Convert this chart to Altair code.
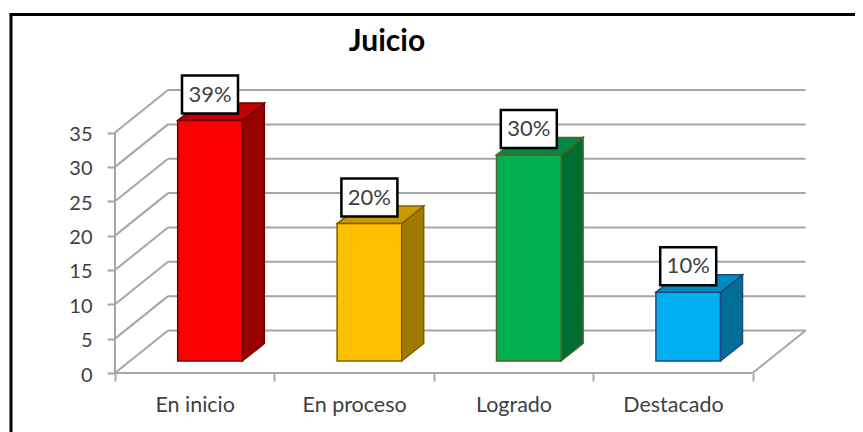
import altair as alt
import pandas as pd

categories = ["En inicio", "En proceso", "Logrado", "Destacado"]
values = [35, 20, 30, 10]
labels = ["39%", "20%", "30%", "10%"]
grid_values = [0, 5, 10, 15, 20, 25, 30, 35]
front_colors = ["#ff0000", "#ffc000", "#00b050", "#00b0f0"]
top_colors = ["#c00000", "#cc9a00", "#008c40", "#008cc0"]
side_colors = ["#990000", "#a07a00", "#006e32", "#006e98"]
edge_colors = ["#6e0000", "#7f6000", "#4f6228", "#1f497d"]

FONT = "Lato"
GRID = "#a6a6a6"
TEXT = "#404040"
PX_X = 159.4   # px per category slot
PX_Y = 6.87    # px per value unit
W, H = 693, 284
WALL_X, WALL_Y = 53 / PX_X, 42.5 / PX_Y
BAR_L, BAR_W = 62.7 / PX_X, 64.6 / PX_X
BAR_DX, BAR_DY = 22 / PX_X, 17.5 / PX_Y
BASE = 12 / PX_Y
BOX_W, BOX_H, BOX_UP = 56 / PX_X, 38 / PX_Y, 26 / PX_Y

n = len(categories)
x_axis_values = [i / 2 for i in range(2 * n + 1)]
label_expr = "datum.value % 1 === 0 ? '' : " + str(categories) + "[floor(datum.value)]"

x_scale = alt.Scale(domain=[0, W / PX_X], nice=False, zero=False)
y_scale = alt.Scale(domain=[0, H / PX_Y], nice=False, zero=False)
x_axis = alt.Axis(
    values=x_axis_values,
    labelExpr=label_expr,
    title=None,
    grid=False,
    domain=False,
    labelFont=FONT,
    labelFontSize=21.5,
    labelColor=TEXT,
    labelPadding=13,
    labelOverlap=False,
    labelFlush=False,
    tickColor=GRID,
    tickWidth=2,
    tickSize=8,
    tickOpacity={"condition": {"test": "datum.value % 1 === 0", "value": 1}, "value": 0},
)
y_axis = alt.Axis(
    values=grid_values,
    title=None,
    grid=False,
    domain=False,
    labelFont=FONT,
    labelFontSize=20,
    labelColor=TEXT,
    labelPadding=15,
    labelOffset=2,
    labelOverlap=False,
    tickColor=GRID,
    tickWidth=2,
    tickSize=8,
)
X = lambda f: alt.X(f, type="quantitative", scale=x_scale, axis=x_axis, title=None)
Y = lambda f: alt.Y(f, type="quantitative", scale=y_scale, axis=y_axis, title=None)

grid_df = pd.DataFrame({"v": grid_values})
grid_df["vb"] = grid_df["v"] + WALL_Y
grid_df["x0"] = 0.0
grid_df["x1"] = WALL_X
grid_df["x2"] = float(n) + WALL_X

diag = alt.Chart(grid_df).mark_rule(color=GRID, strokeWidth=2).encode(
    x=X("x0"), x2="x1:Q", y=Y("v"), y2="vb:Q"
)
back = alt.Chart(grid_df).mark_rule(color=GRID, strokeWidth=2).encode(
    x=X("x1"), x2="x2:Q", y=Y("vb")
)
wall_df = pd.DataFrame({"x": [0.0], "a": [grid_values[0]], "b": [grid_values[-1]]})
wall = alt.Chart(wall_df).mark_rule(color=GRID, strokeWidth=2).encode(
    x=X("x"), y=Y("a"), y2="b:Q"
)
floor_df = pd.DataFrame(
    {"x": [0.0, float(n)], "x2": [float(n), float(n) + WALL_X], "y": [0.0, 0.0], "y2": [0.0, WALL_Y]}
)
floor = alt.Chart(floor_df).mark_rule(color=GRID, strokeWidth=2).encode(
    x=X("x"), x2="x2:Q", y=Y("y"), y2="y2:Q"
)

layers = [diag, back, wall, floor]

label_layers = []
for i, cat in enumerate(categories):
    left = i + BAR_L
    right = left + BAR_W
    top = BASE + values[i]
    front_df = pd.DataFrame({"x": [left], "x2": [right], "y": [BASE], "y2": [top]})
    side_df = pd.DataFrame(
        {"x": [right, right + BAR_DX], "y": [BASE, BASE + BAR_DY], "y2": [top, top + BAR_DY]}
    )
    top_df = pd.DataFrame(
        {"x": [left, left + BAR_DX], "x2": [right, right + BAR_DX], "y": [top, top + BAR_DY]}
    )
    edge = dict(stroke=edge_colors[i], strokeWidth=1.5)
    layers.append(
        alt.Chart(side_df).mark_area(color=side_colors[i], **edge).encode(x=X("x"), y=Y("y"), y2="y2:Q")
    )
    layers.append(
        alt.Chart(top_df).mark_area(color=top_colors[i], orient="horizontal", **edge).encode(
            x=X("x"), x2="x2:Q", y=Y("y")
        )
    )
    layers.append(
        alt.Chart(front_df).mark_rect(color=front_colors[i], **edge).encode(
            x=X("x"), x2="x2:Q", y=Y("y"), y2="y2:Q"
        )
    )
    cx = (left + right) / 2
    cy = top + BOX_UP
    box_df = pd.DataFrame(
        {
            "x": [cx - BOX_W / 2],
            "x2": [cx + BOX_W / 2],
            "y": [cy - BOX_H / 2],
            "y2": [cy + BOX_H / 2],
            "cx": [cx],
            "cy": [cy],
            "t": [labels[i]],
        }
    )
    label_layers.append(
        alt.Chart(box_df).mark_rect(color="#ffffff", stroke="#000000", strokeWidth=2.5).encode(
            x=X("x"), x2="x2:Q", y=Y("y"), y2="y2:Q"
        )
    )
    label_layers.append(
        alt.Chart(box_df).mark_text(font=FONT, fontSize=22, color=TEXT, baseline="middle", align="center").encode(
            x=X("cx"), y=Y("cy"), text="t:N"
        )
    )

frame_top = alt.Chart(pd.DataFrame({"a": [0]})).mark_rule(color="#000000", strokeWidth=3).encode(
    x=alt.value(-105.5), x2=alt.value(750), y=alt.value(-74.5)
)
frame_left = alt.Chart(pd.DataFrame({"a": [0]})).mark_rule(color="#000000", strokeWidth=3).encode(
    x=alt.value(-104), y=alt.value(-74.5), y2=alt.value(345)
)

chart = (
    alt.layer(*layers, *label_layers, frame_top, frame_left)
    .properties(
        width=W,
        height=H,
        background="#ffffff",
        padding={"left": 107, "top": 81, "right": 47, "bottom": 59},
        autosize=alt.AutoSizeParams(type="none"),
        title=alt.TitleParams(
            "Juicio",
            font=FONT,
            fontSize=30,
            fontWeight="bold",
            color="#000000",
            anchor="start",
            align="center",
            frame="group",
            dx=272,
            dy=44,
            offset=0,
        ),
    )
    .configure_view(strokeWidth=0)
)

chart.save("out.html", embed_options={"renderer": "svg", "actions": False})
